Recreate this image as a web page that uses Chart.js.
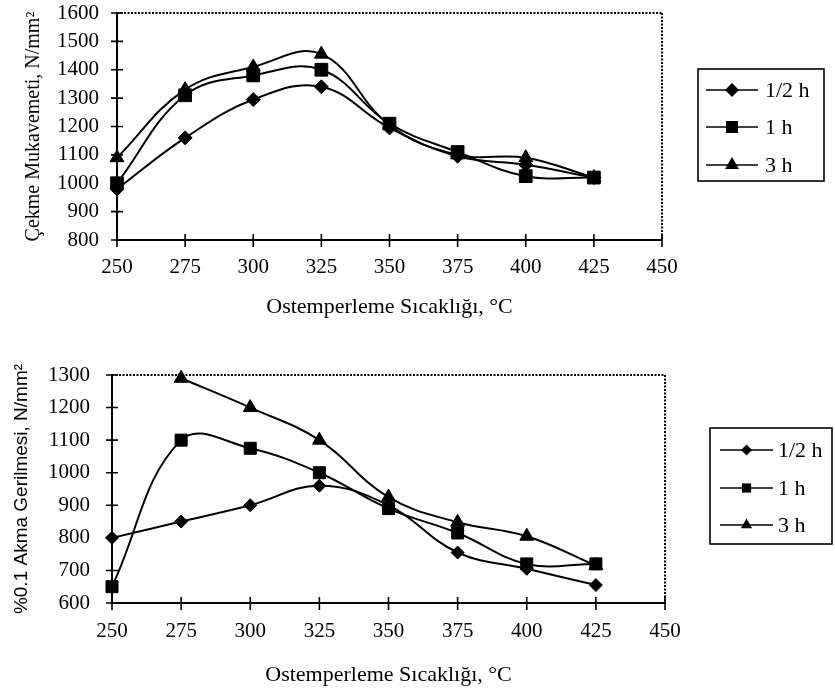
<!DOCTYPE html>
<html>
<head>
<meta charset="utf-8">
<script src="https://cdn.jsdelivr.net/npm/chart.js"></script>
<style>
html,body{margin:0;padding:0;background:#fff;}
#wrap{position:relative;width:835px;height:695px;overflow:hidden;background:#fff;}
canvas{position:absolute;left:0;}
</style>
</head>
<body>
<div id="wrap">
<canvas id="c1" width="835" height="340" style="top:0"></canvas>
<canvas id="c2" width="835" height="355" style="top:340px"></canvas>
</div>
<script>
// ---------- data ----------
const temperatures = [250, 275, 300, 325, 350, 375, 400, 425];
const seriesLabels = ['1/2 h', '1 h', '3 h'];

const tensileHalfHour = [980, 1160, 1295, 1340, 1195, 1095, 1065, 1020];
const tensileOneHour  = [1000, 1310, 1380, 1400, 1210, 1110, 1025, 1020];
const tensileThreeHour = [1090, 1330, 1410, 1455, 1205, 1100, 1090, 1020];

const yieldHalfHour = [800, 850, 900, 960, 900, 755, 705, 655];
const yieldOneHour  = [650, 1100, 1075, 1000, 890, 815, 720, 720];
const yieldThreeHour = [null, 1290, 1200, 1100, 925, 848, 805, 715];

const xTickValues = [250, 275, 300, 325, 350, 375, 400, 425, 450];
const tensileTickValues = [800, 900, 1000, 1100, 1200, 1300, 1400, 1500, 1600];
const yieldTickValues = [600, 700, 800, 900, 1000, 1100, 1200, 1300];

const xTitle = 'Ostemperleme Sıcaklığı, °C';
const tensileTitle = 'Çekme Mukavemeti, N/mm²';
const yieldTitle = '%0.1 Akma Gerilmesi, N/mm²';

// ---------- helpers ----------
const SERIF = "'Liberation Serif','Times New Roman',serif";
const SANS = "'Liberation Sans',Arial,sans-serif";
const pointStyles = ['rectRot', 'rect', 'triangle'];

function toPoints(values) {
  const pts = [];
  values.forEach((v, i) => { if (v !== null) pts.push({x: temperatures[i], y: v}); });
  return pts;
}

function drawMarker(ctx, style, x, y, r) {
  ctx.beginPath();
  if (style === 'rectRot') {
    ctx.moveTo(x, y - r); ctx.lineTo(x + r, y); ctx.lineTo(x, y + r); ctx.lineTo(x - r, y);
  } else if (style === 'rect') {
    const s = r * Math.SQRT1_2;
    ctx.rect(x - s, y - s, 2 * s, 2 * s);
  } else {
    ctx.moveTo(x, y - r);
    ctx.lineTo(x + r * Math.sin(2 * Math.PI / 3), y + r / 2);
    ctx.lineTo(x - r * Math.sin(2 * Math.PI / 3), y + r / 2);
  }
  ctx.closePath();
  ctx.fill();
}

const framePlugin = {
  id: 'frame',
  beforeDatasetsDraw(chart, args, opts) {
    const ctx = chart.ctx;
    const a = chart.chartArea;
    const xs = chart.scales.x, ys = chart.scales.y;
    ctx.save();
    ctx.strokeStyle = '#000';
    ctx.lineWidth = 2;
    ctx.setLineDash([2, 1.5]);
    ctx.beginPath();
    ctx.moveTo(a.left, a.top); ctx.lineTo(a.right, a.top);
    ctx.moveTo(a.right, a.top); ctx.lineTo(a.right, a.bottom);
    ctx.stroke();
    ctx.setLineDash([]);
    ctx.lineWidth = 1.6;
    ctx.beginPath();
    xs.ticks.forEach(t => {
      const px = xs.getPixelForValue(t.value);
      ctx.moveTo(px, a.bottom - 6); ctx.lineTo(px, a.bottom + 7);
    });
    ys.ticks.forEach(t => {
      const py = ys.getPixelForValue(t.value);
      ctx.moveTo(a.left - 6, py); ctx.lineTo(a.left + 6, py);
    });
    ctx.stroke();
    ctx.restore();
  },
  afterDraw(chart, args, opts) {
    const L = opts.legend;
    if (!L) return;
    const ctx = chart.ctx;
    const a = chart.chartArea;
    const bx = a.right + L.dx;
    ctx.save();
    ctx.strokeStyle = '#000';
    ctx.fillStyle = '#000';
    ctx.lineWidth = 1.6;
    ctx.strokeRect(bx, L.y, L.w, L.h);
    chart.data.datasets.forEach((ds, i) => {
      const ry = L.rows[i];
      ctx.lineWidth = 1.6;
      ctx.beginPath();
      ctx.moveTo(bx + L.line0, ry); ctx.lineTo(bx + L.line1, ry);
      ctx.stroke();
      drawMarker(ctx, ds.pointStyle, bx + (L.line0 + L.line1) / 2, ry, L.radii[i]);
      ctx.font = '22px ' + SERIF;
      ctx.textBaseline = 'middle';
      ctx.textAlign = 'left';
      ctx.fillText(ds.label, bx + L.text, ry + 1);
    });
    ctx.restore();
  }
};

function makeDatasets(seriesList, radii) {
  return seriesList.map((vals, i) => ({
    label: seriesLabels[i],
    data: toPoints(vals),
    borderColor: '#000',
    backgroundColor: '#000',
    borderWidth: 2,
    pointStyle: pointStyles[i],
    pointRadius: radii[i],
    pointHoverRadius: radii[i],
    pointBackgroundColor: '#000',
    pointBorderColor: '#000',
    pointBorderWidth: 1,
    tension: 0.4,
    fill: false,
    clip: false,
    spanGaps: true
  }));
}

function makeChart(id, cfg) {
  return new Chart(document.getElementById(id), {
    type: 'line',
    data: {datasets: makeDatasets(cfg.series, cfg.radii)},
    plugins: [framePlugin],
    options: {
      responsive: false,
      animation: false,
      devicePixelRatio: 1,
      layout: {padding: cfg.padding},
      plugins: {
        legend: {display: false},
        tooltip: {enabled: false},
        frame: {legend: cfg.legend}
      },
      scales: {
        x: {
          type: 'linear',
          min: 250, max: 450,
          afterBuildTicks: s => { s.ticks = xTickValues.map(v => ({value: v})); },
          afterFit: s => { s.height = cfg.xHeight; },
          grid: {display: false, drawTicks: false},
          border: {display: true, color: '#000', width: 2},
          ticks: {font: {family: SERIF, size: 21}, color: '#000', padding: cfg.xTickPad, maxRotation: 0, autoSkip: false, callback: v => String(v)},
          title: {display: true, text: xTitle, color: '#000', font: {family: SERIF, size: 22}, padding: {top: 0, bottom: cfg.xTitlePad}}
        },
        y: {
          type: 'linear',
          min: cfg.yTicks[0], max: cfg.yTicks[cfg.yTicks.length - 1],
          afterBuildTicks: s => { s.ticks = cfg.yTicks.map(v => ({value: v})); },
          afterFit: s => { s.width = cfg.yWidth; },
          grid: {display: false, drawTicks: true, tickLength: cfg.yTickGap},
          border: {display: true, color: '#000', width: 2},
          ticks: {font: {family: SERIF, size: 21}, color: '#000', padding: 0, autoSkip: false, callback: v => String(v)},
          title: {display: true, text: cfg.yTitle, color: '#000', font: cfg.yTitleFont, padding: {top: cfg.yTitlePad, bottom: 0}}
        }
      }
    }
  });
}

makeChart('c1', {
  series: [tensileHalfHour, tensileOneHour, tensileThreeHour],
  radii: [7, 9, 8],
  padding: {left: 0, top: 13, right: 173, bottom: 0},
  xHeight: 100, xTickPad: 15, xTitlePad: 20,
  yWidth: 117, yTickGap: 18, yTitlePad: 22,
  yTicks: tensileTickValues,
  yTitle: tensileTitle,
  yTitleFont: {family: SERIF, size: 20},
  legend: {dx: 36, y: 69, w: 126, h: 112, rows: [90, 127, 165], line0: 8, line1: 60, text: 67, radii: [7, 8.5, 8]}
});

makeChart('c2', {
  series: [yieldHalfHour, yieldOneHour, yieldThreeHour],
  radii: [6.5, 8.5, 8],
  padding: {left: 0, top: 35, right: 170, bottom: 0},
  xHeight: 92, xTickPad: 16, xTitlePad: 7,
  yWidth: 112, yTickGap: 22, yTitlePad: 10,
  yTicks: yieldTickValues,
  yTitle: yieldTitle,
  yTitleFont: {family: SANS, size: 19},
  legend: {dx: 45, y: 88, w: 122, h: 116, rows: [110, 148, 185], line0: 10, line1: 63, text: 68, radii: [5.5, 6.5, 6.5]}
});
</script>
</body>
</html>
